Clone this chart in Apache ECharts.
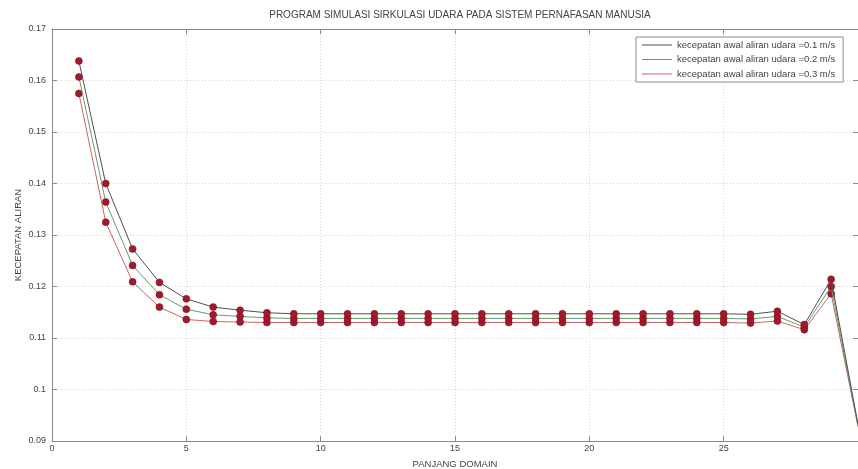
<!DOCTYPE html>
<html>
<head>
<meta charset="utf-8">
<script src="https://cdn.jsdelivr.net/npm/echarts@6/dist/echarts.min.js"></script>
<style>html,body{margin:0;padding:0;background:#fff}#c{width:858px;height:469px}</style>
</head>
<body>
<div id="c"></div>
<script>
var xValues = [1,2,3,4,5,6,7,8,9,10,11,12,13,14,15,16,17,18,19,20,21,22,23,24,25,26,27,28,29,30];
var seriesNames = ['kecepatan awal aliran udara =0.1 m/s','kecepatan awal aliran udara =0.2 m/s','kecepatan awal aliran udara =0.3 m/s'];
var v01 = [0.1638,0.1400,0.1273,0.1208,0.1176,0.1160,0.1154,0.1149,0.1147,0.1147,0.1147,0.1147,0.1147,0.1147,0.1147,0.1147,0.1147,0.1147,0.1147,0.1147,0.1147,0.1147,0.1147,0.1147,0.1147,0.1146,0.1152,0.1126,0.1214,0.0932];
var v02 = [0.1607,0.1364,0.1241,0.1184,0.1156,0.1145,0.1142,0.1139,0.1138,0.1138,0.1138,0.1138,0.1138,0.1138,0.1138,0.1138,0.1138,0.1138,0.1138,0.1138,0.1138,0.1138,0.1138,0.1138,0.1138,0.1137,0.1142,0.1121,0.1200,0.0930];
var v03 = [0.1575,0.1325,0.1209,0.1160,0.1136,0.1132,0.1131,0.1130,0.1130,0.1130,0.1130,0.1130,0.1130,0.1130,0.1130,0.1130,0.1130,0.1130,0.1130,0.1130,0.1130,0.1130,0.1130,0.1130,0.1130,0.1129,0.1133,0.1116,0.1186,0.0928];
var yTickLabels = ['0.09','0.1','0.11','0.12','0.13','0.14','0.15','0.16','0.17'];
var xTickLabels = ['0','5','10','15','20','25'];

var lineColors = ['#505050','#649c70','#cc6262'];
var markerColor = '#a3192b';
var font = 'Liberation Sans, Arial, sans-serif';

function pairs(vals){
  return vals.map(function(v,i){
    var item = {value:[xValues[i], v], itemStyle:{color: markerColor, borderColor:'#701018', borderWidth:0.5}};
    if (i === vals.length - 1) item.symbol = 'none';
    return item;
  });
}
var all = [v01, v02, v03];
var series = all.map(function(vals, k){
  return {
    name: seriesNames[k], type:'line', data: pairs(vals),
    symbol:'circle', symbolSize:7, showAllSymbol:true,
    lineStyle:{color: lineColors[k], width:1},
    itemStyle:{color: lineColors[k]},
    emphasis:{disabled:true}, z: 3 - k, animation:false
  };
});

var axisLineStyle = {color:'#8a8a8a', width:1};
var gridLine = {show:true, lineStyle:{color:'#d4d4d4', type:[1,2], width:1}};

var chart = echarts.init(document.getElementById('c'));
chart.setOption({
  backgroundColor:'#fff',
  animation:false,
  title:{text:'PROGRAM SIMULASI SIRKULASI UDARA PADA SISTEM PERNAFASAN MANUSIA', left:455, textAlign:'center', top:5,
    textStyle:{fontFamily:font, fontSize:10, fontWeight:'normal', color:'#444'}},
  legend:{
    left:636, top:37, orient:'vertical', padding:[3,8,3,6], itemGap:4.5, itemWidth:30, itemHeight:1, icon:'rect',
    backgroundColor:'#fff', borderColor:'#8a8a8a', borderWidth:1, borderRadius:0,
    textStyle:{fontFamily:font, fontSize:9.5, color:'#444', lineHeight:10},
    data: seriesNames
  },
  grid:{left:52, right:0, top:29, bottom:28, containLabel:false, outerBoundsMode:'none'},
  xAxis:[{
    type:'value', min:0, max:30, interval:5,
    name:'PANJANG DOMAIN', nameLocation:'middle', nameGap:18,
    nameTextStyle:{fontFamily:font, fontSize:9.5, color:'#444'},
    axisLine:{show:true, onZero:false, lineStyle:axisLineStyle},
    axisTick:{show:true, inside:true, length:5, lineStyle:axisLineStyle},
    axisLabel:{fontFamily:font, fontSize:9, color:'#444', margin:3, showMaxLabel:false,
      formatter:function(v){ var i = xTickLabels.indexOf(String(v)); return i>=0 ? xTickLabels[i] : ''; }},
    splitLine:gridLine
  },{
    type:'value', min:0, max:30, interval:5, position:'top',
    axisLine:{show:true, onZero:false, lineStyle:axisLineStyle},
    axisTick:{show:true, inside:true, length:5, lineStyle:axisLineStyle},
    axisLabel:{show:false}, splitLine:{show:false}
  }],
  yAxis:[{
    type:'value', min:0.09, max:0.17, interval:0.01,
    name:'KECEPATAN ALIRAN', nameLocation:'middle', nameGap:29, nameMoveOverlap:false,
    nameTextStyle:{fontFamily:font, fontSize:9.5, color:'#444'},
    axisLine:{show:true, onZero:false, lineStyle:axisLineStyle},
    axisTick:{show:true, inside:true, length:5, lineStyle:axisLineStyle},
    axisLabel:{fontFamily:font, fontSize:9, color:'#444', margin:6,
      formatter:function(v){ var s = String(parseFloat(v.toFixed(2))); return yTickLabels.indexOf(s)>=0 ? s : ''; }},
    splitLine:gridLine
  },{
    type:'value', min:0.09, max:0.17, interval:0.01, position:'right',
    axisLine:{show:true, onZero:false, lineStyle:axisLineStyle},
    axisTick:{show:true, inside:true, length:5, lineStyle:axisLineStyle},
    axisLabel:{show:false}, splitLine:{show:false}
  }],
  series: series
});
</script>
</body>
</html>
